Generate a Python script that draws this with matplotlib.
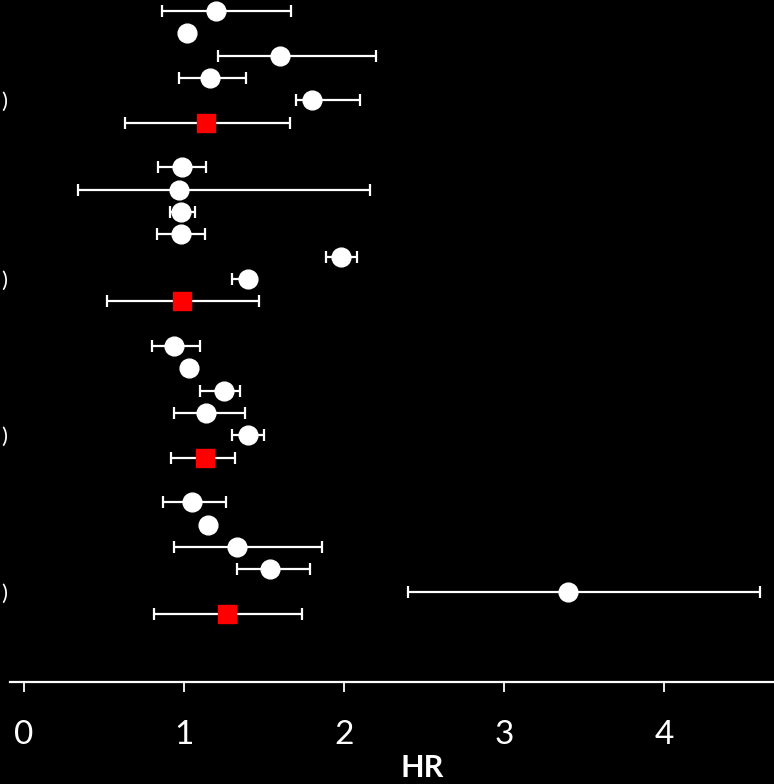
import numpy as np
import matplotlib.pyplot as plt

plt.rcParams['font.family'] = ['Lato', 'DejaVu Sans']

# hazard ratios with 95% CI, four groups, last row of each group is the pooled estimate
hr_g1 = [1.20, 1.02, 1.60, 1.16, 1.80, 1.14]
lo_g1 = [0.86, np.nan, 1.21, 0.97, 1.70, 0.63]
hi_g1 = [1.67, np.nan, 2.20, 1.39, 2.10, 1.66]

hr_g2 = [0.99, 0.97, 0.98, 0.98, 1.98, 1.40, 0.99]
lo_g2 = [0.84, 0.34, 0.91, 0.83, 1.89, 1.30, 0.52]
hi_g2 = [1.14, 2.16, 1.07, 1.13, 2.08, 1.43, 1.47]

hr_g3 = [0.94, 1.03, 1.25, 1.14, 1.40, 1.13]
lo_g3 = [0.80, np.nan, 1.10, 0.94, 1.30, 0.92]
hi_g3 = [1.10, np.nan, 1.35, 1.38, 1.50, 1.32]

hr_g4 = [1.05, 1.15, 1.33, 1.54, 3.40, 1.27]
lo_g4 = [0.87, np.nan, 0.94, 1.33, 2.40, 0.81]
hi_g4 = [1.26, np.nan, 1.86, 1.79, 4.60, 1.74]

groups = [(hr_g1, lo_g1, hi_g1), (hr_g2, lo_g2, hi_g2),
          (hr_g3, lo_g3, hi_g3), (hr_g4, lo_g4, hi_g4)]
xticks = [0, 1, 2, 3, 4]

W, H = 774, 784
fig = plt.figure(figsize=(W / 100, H / 100), dpi=100, facecolor='black')
ax = fig.add_axes([0, 1 - 682 / H, 1, 682 / H])
ax.set_facecolor('black')

row = 0
label_rows = []
for hr, lo, hi in groups:
    n = len(hr)
    for i in range(n):
        pooled = (i == n - 1)
        if np.isfinite(lo[i]):
            ax.errorbar(hr[i], row, xerr=[[hr[i] - lo[i]], [hi[i] - hr[i]]],
                        fmt='none', ecolor='white', elinewidth=1.6,
                        capsize=4.2, capthick=1.6, zorder=2)
        if pooled:
            ax.plot(hr[i], row, marker='s', ms=13, color='#ff0000',
                    mec='#ff0000', ls='none', zorder=3)
        else:
            ax.plot(hr[i], row, marker='o', ms=13.5, color='white',
                    mec='white', ls='none', zorder=3)
        if i == n - 2:
            label_rows.append(row)
        row += 1
    row += 1  # blank line between groups

ax.set_xlim(-24 / 160, (W - 24) / 160)
ax.set_ylim(30.05, -0.49)

for s in ['top', 'right', 'left']:
    ax.spines[s].set_visible(False)
ax.spines['bottom'].set_color('white')
ax.spines['bottom'].set_linewidth(1.6)
ax.spines['bottom'].set_bounds(-14 / 160, (W - 24) / 160)

ax.set_yticks([])
ax.set_xticks(xticks)
ax.set_xticklabels([str(t) for t in xticks])
ax.tick_params(axis='x', colors='white', direction='out', length=7,
               width=1.3, pad=20, labelsize=24)

# clipped study labels at the left edge
for r in label_rows:
    y_px = 11 + r * 22.33
    fig.text(7 / W, 1 - (y_px + 2) / H, ')', color='white', fontsize=16,
             ha='right', va='center')

fig.text(422 / W, 1 - 768 / H, 'HR', color='white', fontsize=22,
         fontweight='bold', ha='center', va='center')

fig.savefig('out.png', dpi=100, facecolor='black')
